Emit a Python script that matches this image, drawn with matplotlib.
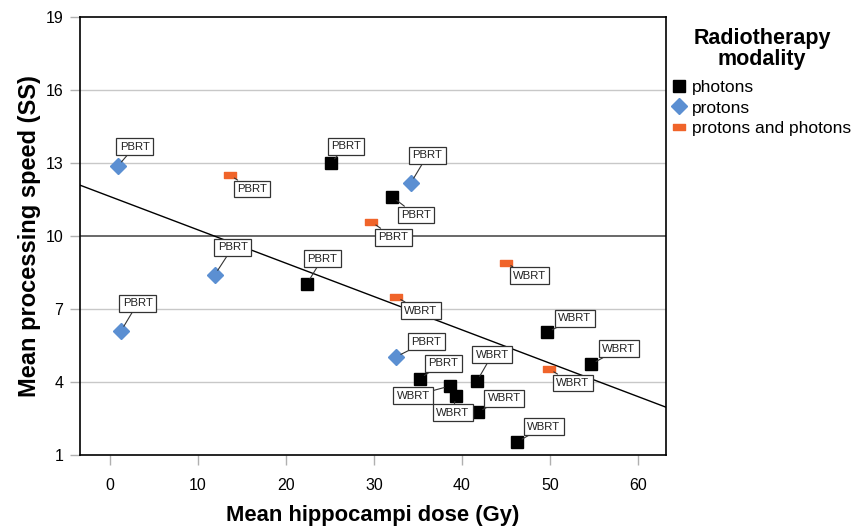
import matplotlib
matplotlib.use("Agg")
import matplotlib.pyplot as plt
import numpy as np
from matplotlib.path import Path

plt.rcParams["font.family"] = ["Liberation Sans", "DejaVu Sans"]

# ── Data ──────────────────────────────────────────────────────────────────────

photons_x = [25.1, 32.1, 22.4, 49.7, 54.7, 35.2, 38.6, 39.3, 41.7, 41.8, 46.3]
photons_y = [13.0, 11.6, 8.05, 6.05, 4.74, 4.15, 3.84, 3.43, 4.04, 2.77, 1.55]
photons_lab = ["PBRT", "PBRT", "PBRT", "WBRT", "WBRT", "PBRT",
               "WBRT", "WBRT", "WBRT", "WBRT", "WBRT"]

protons_x = [0.9, 11.9, 1.25, 34.2, 32.5]
protons_y = [12.87, 8.40, 6.10, 12.18, 5.04]
protons_lab = ["PBRT", "PBRT", "PBRT", "PBRT", "PBRT"]

both_x = [13.6, 29.7, 45.0, 32.5, 49.9]
both_y = [12.50, 10.58, 8.89, 7.50, 4.54]
both_lab = ["PBRT", "PBRT", "WBRT", "WBRT", "WBRT"]

trend_intercept = 11.62
trend_slope = -0.1368

x_ticks = [0, 10, 20, 30, 40, 50, 60]
y_ticks = [1, 4, 7, 10, 13, 16, 19]

# label offsets (points) from each marker, same order as the data
photons_off = [(11, 12), (17, -13), (11, 18), (20, 10), (20, 11), (17, 11),
               (-26, -7), (-2, -12), (11, 19), (19, 10), (19, 11)]
protons_off = [(12, 14), (13, 20), (12, 20), (12, 20), (22, 11)]
both_off = [(16, -10), (16, -11), (17, -9), (18, -10), (17, -10)]

BLACK = "#000000"
BLUE = "#5B8FD2"
ORANGE = "#F0642A"

rect_marker = Path([(-1, -0.5), (1, -0.5), (1, 0.5), (-1, 0.5), (-1, -0.5)],
                   [Path.MOVETO, Path.LINETO, Path.LINETO, Path.LINETO, Path.CLOSEPOLY])

fig = plt.figure(figsize=(8.55, 5.32), dpi=100)
ax = fig.add_axes([80 / 855, 1 - 455.3 / 532, 586 / 855, (455.3 - 16.7) / 532])

ax.set_xlim(-3.41, 63.2)
ax.set_ylim(1, 19)
ax.set_xticks(x_ticks)
ax.set_yticks(y_ticks)
for y in y_ticks[1:-1]:
    ax.axhline(y, color="#404040" if y == 10 else "#c8c8c8", lw=1.1 if y == 10 else 1.0, zorder=0)

xx = np.array(ax.get_xlim())
ax.plot(xx, trend_intercept + trend_slope * xx, color="black", lw=1.0, zorder=2)

label_box = dict(boxstyle="square,pad=0.3", fc="white", ec="#333333", lw=0.9)


def draw_series(xs, ys, labs, offs, marker, ms, color, name):
    ax.plot(xs, ys, linestyle="none", marker=marker, ms=ms, color=color,
            mec=color, label=name, zorder=4)
    for x, y, lab, off in zip(xs, ys, labs, offs):
        ax.annotate(lab, (x, y), xytext=off, textcoords="offset points",
                    ha="center", va="center", fontsize=8.2, color="#222222",
                    bbox=label_box, zorder=5,
                    arrowprops=dict(arrowstyle="-", color="#333333", lw=0.8,
                                    shrinkA=0, shrinkB=4))


draw_series(photons_x, photons_y, photons_lab, photons_off, "s", 8.5, BLACK, "photons")
draw_series(protons_x, protons_y, protons_lab, protons_off, "D", 7.8, BLUE, "protons")
draw_series(both_x, both_y, both_lab, both_off, rect_marker, 9.0, ORANGE, "protons and photons")

for s in ax.spines.values():
    s.set_color("black")
    s.set_linewidth(1.2)
ax.tick_params(axis="both", length=7, width=1.0, color="#b0b0b0", labelsize=11.5, pad=5)
ax.tick_params(axis="x", pad=9)

ax.set_xlabel("Mean hippocampi dose (Gy)", fontsize=15.8, fontweight="bold", labelpad=9)
ax.set_ylabel("Mean processing speed (SS)", fontsize=17, fontweight="bold", labelpad=3)

fig.text(762 / 855, 1 - 49 / 532, "Radiotherapy\nmodality", ha="center", va="center",
         fontsize=15.5, fontweight="bold", linespacing=1.0)
fig.legend(loc="upper left", bbox_to_anchor=(668 / 855, 1 - 76 / 532),
           frameon=False, fontsize=12.5, handlelength=0.9, handletextpad=0.3,
           labelspacing=0.33, borderaxespad=0, borderpad=0.2)

fig.savefig("out.png", dpi=100)
